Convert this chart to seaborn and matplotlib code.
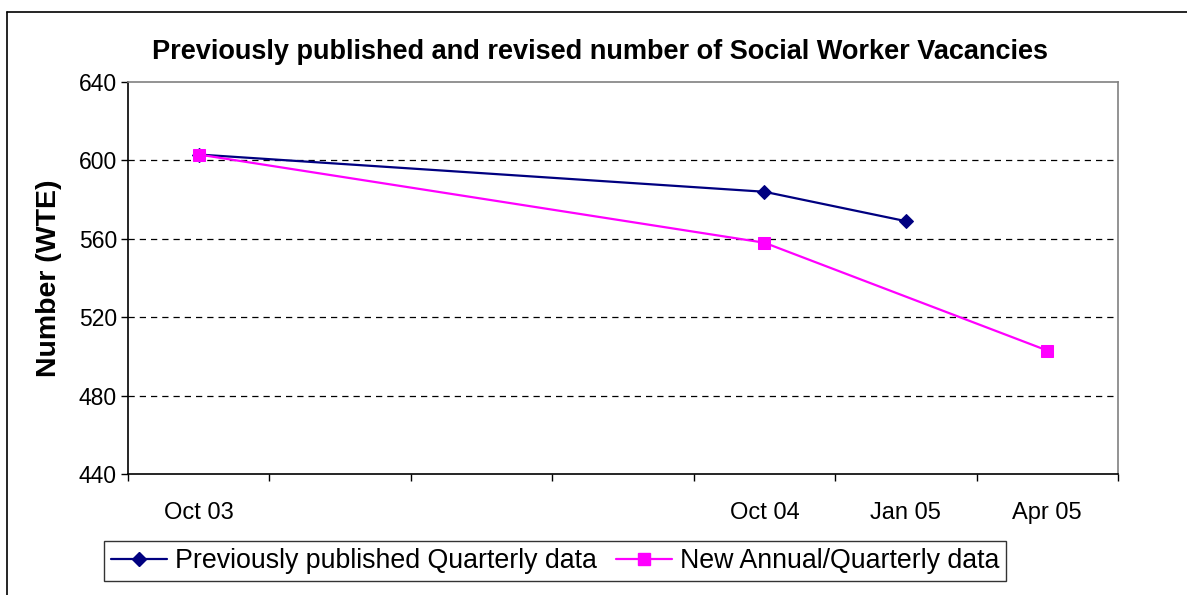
import numpy as np
import pandas as pd
import seaborn as sns
import matplotlib.pyplot as plt
from matplotlib.lines import Line2D

# Quarter slots on the category axis
quarters = ["Oct 03", "Jan 04", "Apr 04", "Jul 04", "Oct 04", "Jan 05", "Apr 05"]
shown_labels = ["Oct 03", "Oct 04", "Jan 05", "Apr 05"]

# Previously published quarterly data
prev_quarters = ["Oct 03", "Oct 04", "Jan 05"]
prev_values = [603, 584, 569]

# New annual/quarterly data
new_quarters = ["Oct 03", "Oct 04", "Apr 05"]
new_values = [603, 558, 503]

y_ticks = [440, 480, 520, 560, 600, 640]

pos = {q: i for i, q in enumerate(quarters)}
prev_df = pd.DataFrame({"x": [pos[q] for q in prev_quarters], "y": prev_values})
new_df = pd.DataFrame({"x": [pos[q] for q in new_quarters], "y": new_values})

sns.set_style("white")
plt.rcParams['font.family'] = ['Liberation Sans', 'DejaVu Sans']
plt.rcParams['text.color'] = 'black'
plt.rcParams['axes.labelcolor'] = 'black'
plt.rcParams['xtick.color'] = 'black'
plt.rcParams['ytick.color'] = 'black'

fig = plt.figure(figsize=(11.87, 5.95), dpi=100)
ax = fig.add_axes([128 / 1187, 1 - 474 / 595, (1118 - 128) / 1187, (474 - 82) / 595])

sns.lineplot(data=prev_df, x="x", y="y", ax=ax, color="#000080", linewidth=1.6,
             marker="D", markersize=7.5, markeredgecolor="#000080")
sns.lineplot(data=new_df, x="x", y="y", ax=ax, color="#FF00FF", linewidth=1.6,
             marker="s", markersize=8, markeredgecolor="#FF00FF")

ax.set_xlim(-0.5, len(quarters) - 0.5)
ax.set_ylim(y_ticks[0], y_ticks[-1])
ax.set_yticks(y_ticks)
ax.set_yticklabels([str(v) for v in y_ticks], fontsize=16.5)

# tick marks sit between categories, labels at the centres
ax.set_xticks(np.arange(-0.5, len(quarters)))
ax.set_xticklabels([])
ax.set_xticks([pos[q] for q in shown_labels], minor=True)
ax.set_xticklabels(shown_labels, minor=True, fontsize=17)
ax.tick_params(axis="x", which="major", direction="out", length=5, width=1, color="black", bottom=True)
ax.tick_params(axis="x", which="minor", length=0, pad=20)
ax.tick_params(axis="y", direction="out", length=5, width=1, color="black", left=True, pad=3)

for v in y_ticks[1:-1]:
    ax.axhline(v, color="black", linestyle=(0, (5, 4)), linewidth=0.9, zorder=0)

for s in ["left", "bottom"]:
    ax.spines[s].set_color("black")
    ax.spines[s].set_linewidth(1.2)
for s in ["top", "right"]:
    ax.spines[s].set_color("#808080")
    ax.spines[s].set_linewidth(1.2)

ax.set_xlabel("")
ax.set_ylabel("Number (WTE)", fontsize=20.5, fontweight="bold", labelpad=12)

fig.text(600 / 1187, 1 - 52 / 595, "Previously published and revised number of Social Worker Vacancies",
         ha="center", va="center", fontsize=19.5, fontweight="bold")

handles = [
    Line2D([], [], color="#000080", marker="D", markersize=7.5, linewidth=1.6),
    Line2D([], [], color="#FF00FF", marker="s", markersize=8, linewidth=1.6),
]
leg = fig.legend(handles, ["Previously published Quarterly data", "New Annual/Quarterly data"],
                 loc="center", bbox_to_anchor=(555 / 1187, 1 - 561 / 595), ncol=2,
                 fontsize=19.3, frameon=True, fancybox=False, handlelength=2.1,
                 handletextpad=0.3, columnspacing=0.7, borderpad=0.25, borderaxespad=0)
leg.get_frame().set_edgecolor("black")
leg.get_frame().set_linewidth(1)

# outer chart frame
fig.add_artist(Line2D([7 / 1187, 7 / 1187], [0, 1 - 12 / 595], color="black", linewidth=1.2))
fig.add_artist(Line2D([7 / 1187, 1], [1 - 12 / 595, 1 - 12 / 595], color="black", linewidth=1.2))

fig.savefig("out.png", dpi=100)
